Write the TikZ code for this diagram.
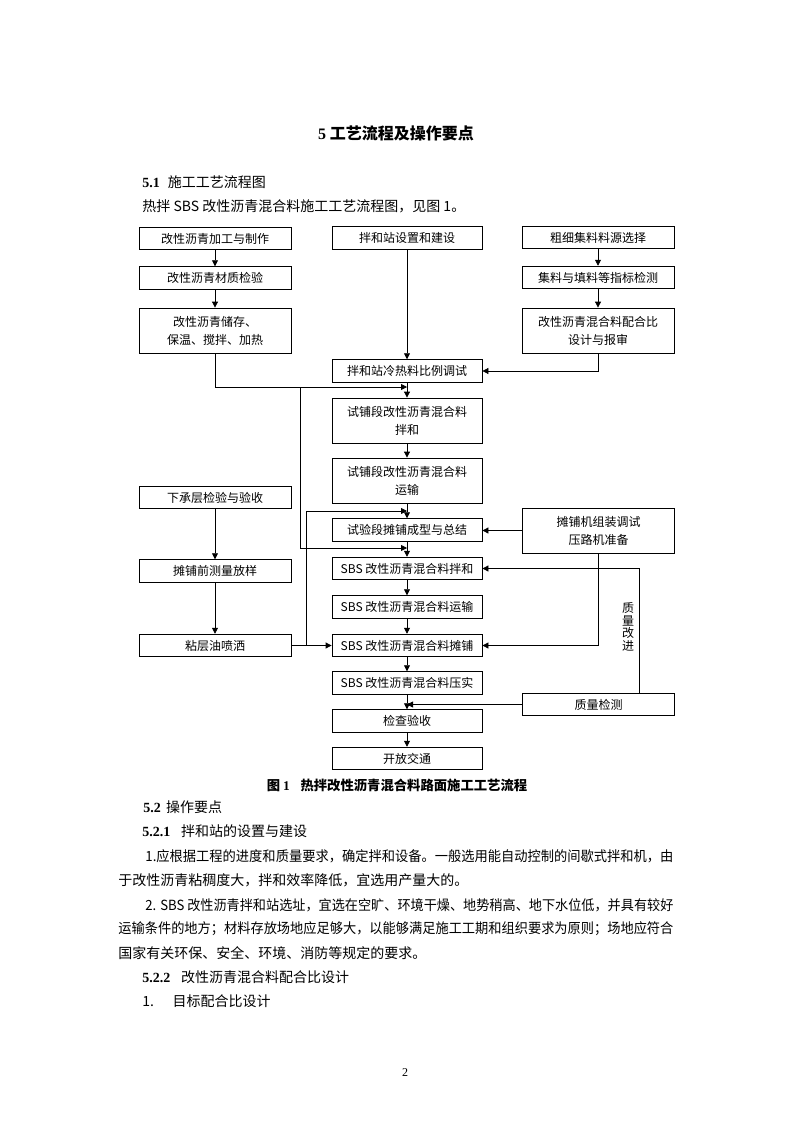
\documentclass[tikz,border=0pt]{standalone}
\usepackage{fontspec}
\usepackage{graphicx}
\setmainfont{Noto Sans CJK SC}
\newfontfamily\timesf{Liberation Serif}
\usetikzlibrary{arrows.meta,positioning}
\newcommand\jline[2]{\resizebox{#1}{\height}{#2}}
\newcommand\hnum[1]{{\timesf\bfseries #1}}
\begin{document}
\begin{tikzpicture}[x=0.75pt,y=-0.75pt,line width=0.6pt,
  >={Triangle[length=4.5pt,width=4.5pt]},
  flow/.style={draw,inner sep=0pt,align=center,font=\fontsize{9}{13.5}\selectfont},
  wbox/.style={flow,minimum width=114pt},
  cbox/.style={flow,minimum width=112.5pt},
  short/.style={minimum height=17pt},
  tall/.style={minimum height=33.75pt},
  body/.style={anchor=west,inner sep=0pt,font=\fontsize{10.5}{12}\selectfont}]
\fill[white] (0,0) rectangle (794,1123);
\useasboundingbox (0,0) rectangle (794,1123);

% page text above the chart
\node[inner sep=0pt,font=\fontsize{12}{14}\selectfont\bfseries] (bt) at (396,133) {\hnum{5} 工艺流程及操作要点};
\node[body] (h51) at (142,182) {\hnum{5.1}\hspace{6pt}施工工艺流程图};
\node[body] (yt) at (142,206) {热拌 SBS 改性沥青混合料施工工艺流程图，见图 1。};

% left column
\node[wbox,short] (jg) at (215,238.5) {改性沥青加工与制作};
\node[wbox,short] (zj) at (215,278) {改性沥青材质检验};
\node[wbox,tall] (cc) at (215,330.5) {改性沥青储存、\\保温、搅拌、加热};
\node[wbox,short] (xc) at (215,497.5) {下承层检验与验收};
\node[wbox,short] (cl) at (215,571) {摊铺前测量放样};
\node[wbox,short] (nc) at (215,645.5) {粘层油喷洒};

% centre column
\node[cbox,short] (sz) at (407,238) {拌和站设置和建设};
\node[cbox,short] (ts) at (407,371) {拌和站冷热料比例调试};
\node[cbox,tall] (sb) at (407,420.5) {试铺段改性沥青混合料\\拌和};
\node[cbox,tall] (sy) at (407,480.5) {试铺段改性沥青混合料\\运输};
\node[cbox,short] (sp) at (407,530) {试验段摊铺成型与总结};
\node[cbox,short] (bh) at (407,568.5) {SBS 改性沥青混合料拌和};
\node[cbox,short] (ys) at (407,607) {SBS 改性沥青混合料运输};
\node[cbox,short] (tp) at (407,645.5) {SBS 改性沥青混合料摊铺};
\node[cbox,short] (ys2) at (407,683) {SBS 改性沥青混合料压实};
\node[cbox,short] (jy) at (407,721) {检查验收};
\node[cbox,short] (kf) at (407,758.5) {开放交通};

% right column
\node[wbox,short] (xz) at (598,237.5) {粗细集料料源选择};
\node[wbox,short] (jc) at (598,277.5) {集料与填料等指标检测};
\node[wbox,tall] (pb) at (598,330.5) {改性沥青混合料配合比\\设计与报审};
\node[wbox,tall] (zb) at (598.5,530.5) {摊铺机组装调试\\压路机准备};
\node[wbox,short] (zl) at (598.5,704.5) {质量检测};

\coordinate (hl) at (407,387);
\coordinate (fz) at (300,387);
\coordinate (bhin) at (407,548);
\coordinate (fz2) at (306,645.5);
\coordinate (spin) at (407,511);

% straight runs
\draw[->] (jg) -- (zj);
\draw[->] (zj) -- (cc);
\draw[->] (xz) -- (jc);
\draw[->] (jc) -- (pb);
\draw[->] (xc) -- (cl);
\draw[->] (cl) -- (nc);
\draw[->] (sz) -- (ts);
\draw[->] (ts) -- (sb);
\draw[->] (sb) -- (sy);
\draw[->] (sy) -- (sp);
\draw[->] (sp) -- (bh);
\draw[->] (bh) -- (ys);
\draw[->] (ys) -- (tp);
\draw[->] (tp) -- (ys2);
\draw[->] (ys2) -- (jy);
\draw[->] (jy) -- (kf);

% feeds into the centre column
\draw[->] (pb.south) |- (ts.east);
\draw[->] (cc.south) |- (hl);
\draw[->] (fz) |- (bhin);
\draw[->] (nc) -- (tp);
\draw[->] (fz2) |- (spin);
\draw[->] (zb.west) -- (zb.west -| sp.east);
\draw[->] (zb.south) |- (tp.east);
\draw[->] ([xshift=31pt]zl.north) |- (bh.east);
\draw[->] (zl.west) -- (zl.west -| jy.north);
\node[inner sep=0pt,align=center,font=\fontsize{9}{9.5}\selectfont] (gj) at (628,627) {质\\量\\改\\进};

% caption and text below the chart
\node[inner sep=0pt,font=\fontsize{10}{12}\selectfont\bfseries] (tm) at (397,785) {图 {\timesf 1}\hspace{8pt}热拌改性沥青混合料路面施工工艺流程};
\node[body] (h52) at (143,807) {\hnum{5.2}\hspace{4pt}操作要点};
\node[body] (h521) at (142,831) {\hnum{5.2.1}\hspace{8pt}拌和站的设置与建设};
\node[body] (p1) at (145,856) {\jline{396pt}{1.应根据工程的进度和质量要求，确定拌和设备。一般选用能自动控制的间歇式拌和机，由}};
\node[body] (p2) at (118,880) {于改性沥青粘稠度大，拌和效率降低，宜选用产量大的。};
\node[body] (p3) at (145,905) {\jline{396pt}{2. SBS 改性沥青拌和站选址，宜选在空旷、环境干燥、地势稍高、地下水位低，并具有较好}};
\node[body] (p4) at (118,929) {\jline{416.25pt}{运输条件的地方；材料存放场地应足够大，以能够满足施工工期和组织要求为原则；场地应符合}};
\node[body] (p5) at (118,953) {国家有关环保、安全、环境、消防等规定的要求。};
\node[body] (h522) at (142,977) {\hnum{5.2.2}\hspace{8pt}改性沥青混合料配合比设计};
\node[body] (h1) at (142,1001) {1.\hspace{14pt}目标配合比设计};
\node[inner sep=0pt,font=\fontsize{9}{11}\selectfont] (ym) at (405,1073) {\timesf 2};
\end{tikzpicture}
\end{document}
